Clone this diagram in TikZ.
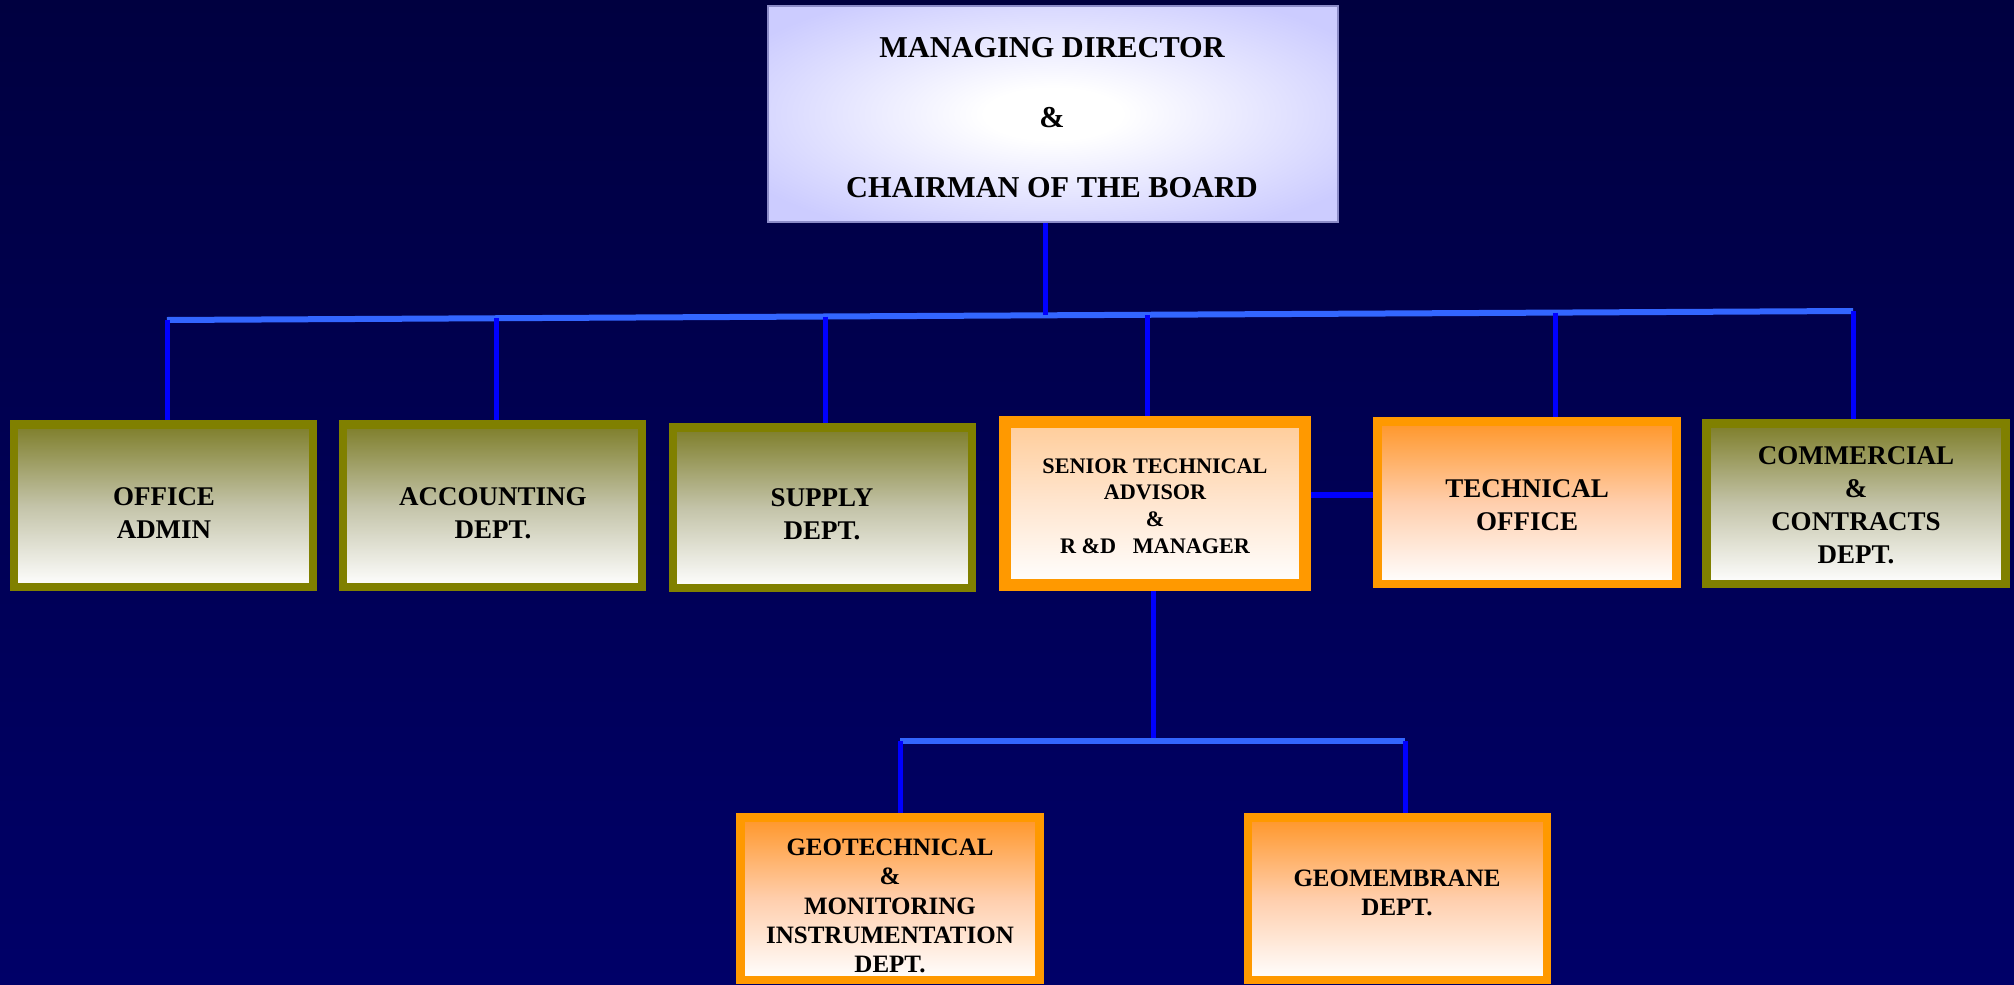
\documentclass[tikz,border=0pt]{standalone}
\usepackage{fontspec}
\setmainfont{Liberation Serif}
\usetikzlibrary{calc}
\definecolor{bgtop}{RGB}{0,0,64}
\definecolor{bgbot}{RGB}{0,0,104}
\definecolor{olivebd}{RGB}{128,128,0}
\definecolor{olivetop}{RGB}{125,125,40}
\definecolor{olivemid}{RGB}{195,195,168}
\definecolor{orangebd}{RGB}{255,153,0}
\definecolor{orangetop}{RGB}{255,150,40}
\definecolor{orangemid}{RGB}{255,206,172}
\definecolor{peachtop}{RGB}{255,204,153}
\definecolor{peachmid}{RGB}{255,230,208}
\definecolor{lav}{RGB}{204,204,255}
\definecolor{lavbd}{RGB}{140,140,200}
\definecolor{dropblue}{RGB}{0,0,255}
\definecolor{busblue}{RGB}{51,102,255}
\pgfdeclareradialshading{mdshade}{\pgfpoint{0bp}{0bp}}{color(0bp)=(white); color(6bp)=(white); color(31bp)=(lav); color(50bp)=(lav)}
\tikzset{
  box/.style={rectangle, inner sep=0pt, line width=8.5pt, minimum width=299pt, minimum height=162.5pt},
  olivebox/.style={box, draw=olivebd, top color=olivetop, bottom color=white, middle color=olivemid},
  orangebox/.style={box, draw=orangebd, top color=orangetop, bottom color=white, middle color=orangemid},
  peachbox/.style={box, draw=orangebd, line width=12pt, top color=peachtop, bottom color=white, middle color=peachmid},
  topbox/.style={rectangle, inner sep=0pt, draw=lavbd, line width=1.2pt, shading=mdshade},
  lbl/.style={align=center, inner sep=0pt, font=\bfseries\fontsize{27}{33}\selectfont},
  smalllbl/.style={align=center, inner sep=0pt, font=\bfseries\fontsize{22.2}{26.7}\selectfont},
  geolbl/.style={align=center, inner sep=0pt, font=\bfseries\fontsize{25}{29.3}\selectfont},
  toplbl/.style={align=center, inner sep=0pt, font=\bfseries\fontsize{30.3}{70}\selectfont},
  drop/.style={draw=dropblue, line width=5pt},
  bus/.style={draw=busblue, line width=6pt}
}
\begin{document}
\begin{tikzpicture}[x=1pt,y=-1pt]
\useasboundingbox (0,0) rectangle (2014,985);
\fill[top color=bgtop, bottom color=bgbot] (0,0) rectangle (2014,985);

% boxes
\node[topbox, minimum width=570pt, minimum height=216pt] (md) at (1053,114) {};
\node[olivebox] (office) at (163.5,505.5) {};
\node[olivebox] (acc) at (492.5,505.5) {};
\node[olivebox, minimum height=160.5pt] (supply) at (822.5,507.5) {};
\node[peachbox, minimum width=300pt, minimum height=163pt] (senior) at (1155,503.5) {};
\node[orangebox] (tech) at (1527,502.5) {};
\node[olivebox, minimum height=160.5pt] (comm) at (1856,503.5) {};
\node[orangebox] (geo) at (890,898.5) {};
\node[orangebox] (memb) at (1397.5,898.5) {};

% coordinates of the buses
\coordinate (busL) at (167,320);
\coordinate (busR) at (1853,311);
\coordinate (t) at (1045,315.3);
\coordinate (d1) at (167,320);
\coordinate (d2) at (496,318.2);
\coordinate (d3) at (825,316.5);
\coordinate (d4) at (1147,314.8);
\coordinate (d5) at (1555,312.6);
\coordinate (d6) at (1853,311);
\coordinate (side) at (1340,495);
\coordinate (sb) at (1153,741);
\coordinate (g1) at (900,741);
\coordinate (g2) at (1405,741);

% connectors
\draw[bus] (busL) -- (busR);
\draw[drop] (t |- md.south) -- (t);
\draw[drop] (d1) -- (d1 |- office.north);
\draw[drop] (d2) -- (d2 |- acc.north);
\draw[drop] (d3) -- (d3 |- supply.north);
\draw[drop] (d4) -- (d4 |- senior.north);
\draw[drop] (d5) -- (d5 |- tech.north);
\draw[drop] (d6) -- (d6 |- comm.north);
\draw[drop, line width=6pt] (senior.east |- side) -- (tech.west |- side);
\draw[drop] (sb |- senior.south) -- (sb);
\draw[bus] (g1) -- (g2);
\draw[drop] (g1) -- (g1 |- geo.north);
\draw[drop] (g2) -- (g2 |- memb.north);

% texts
\node[toplbl] (mdT) at (1052,118) {MANAGING DIRECTOR\\\&\\CHAIRMAN OF THE BOARD};
\node[lbl] (officeT) at (164,513) {OFFICE\\ADMIN};
\node[lbl] (accT) at (493,513) {ACCOUNTING\\DEPT.};
\node[lbl] (supplyT) at (822,514) {SUPPLY\\DEPT.};
\node[smalllbl] (seniorT) at (1155,506) {SENIOR TECHNICAL\\ADVISOR\\\&\\R \&D\ \ \ MANAGER};
\node[lbl] (techT) at (1527,505) {TECHNICAL\\OFFICE};
\node[lbl] (commT) at (1856,505) {COMMERCIAL\\\&\\CONTRACTS\\DEPT.};
\node[geolbl] (geoT) at (890,906) {GEOTECHNICAL\\\&\\MONITORING\\INSTRUMENTATION\\DEPT.};
\node[geolbl] (membT) at (1397,893) {GEOMEMBRANE\\DEPT.};
\end{tikzpicture}
\end{document}
